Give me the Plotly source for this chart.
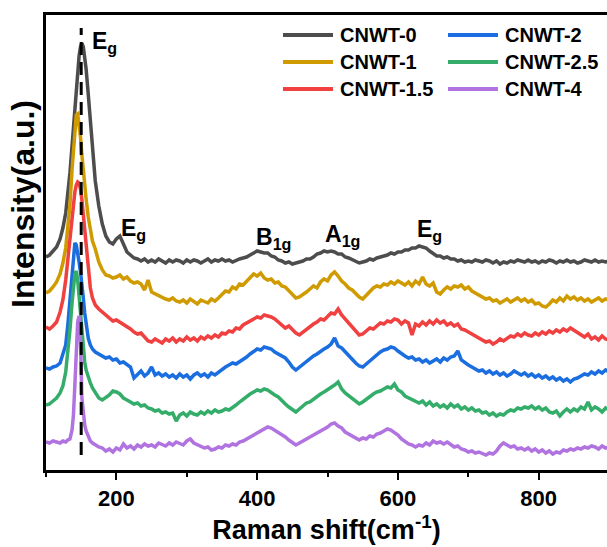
import plotly.graph_objects as go

# ---------------- data ----------------
X_FINE = [100, 105, 110, 115, 120, 124, 128, 131, 134, 137, 139, 141, 143, 145, 147,
          149, 151, 153, 155, 157, 160, 163, 166, 170, 175]
X_COARSE = [180, 185, 190, 195, 200, 205, 210, 215, 220, 225,
            230, 235, 240, 245, 250, 255, 260, 265, 270, 275,
            280, 285, 290, 295, 300, 305, 310, 315, 320, 325,
            330, 335, 340, 345, 350, 355, 360, 365, 370, 375,
            380, 385, 390, 395, 400, 405, 410, 415, 420, 425,
            430, 435, 440, 445, 450, 455, 460, 465, 470, 475,
            480, 485, 490, 495, 500, 505, 510, 515, 520, 525,
            530, 535, 540, 545, 550, 555, 560, 565, 570, 575,
            580, 585, 590, 595, 600, 605, 610, 615, 620, 625,
            630, 635, 640, 645, 650, 655, 660, 665, 670, 675,
            680, 685, 690, 695, 700, 705, 710, 715, 720, 725,
            730, 735, 740, 745, 750, 755, 760, 765, 770, 775,
            780, 785, 790, 795, 800, 805, 810, 815, 820, 825,
            830, 835, 840, 845, 850, 855, 860, 865, 870, 875,
            880, 885, 890, 895, 900]
RAMAN_SHIFT = X_FINE + X_COARSE

SERIES_NAMES = ["CNWT-0", "CNWT-1", "CNWT-1.5", "CNWT-2", "CNWT-2.5", "CNWT-4"]

CNWT_0 = [213, 215, 219, 223, 231, 242, 257, 274, 297, 324, 344, 364, 384, 401, 414,
          423, 427, 423, 414, 401, 376, 349, 319, 289, 264,
          246, 234, 228, 226, 231, 234, 225, 218, 215, 212,
          211, 209, 211, 208, 210, 208, 211, 209, 207, 210,
          208, 210, 209, 207, 210, 208, 210, 209, 207, 209,
          211, 208, 210, 209, 211, 209, 210, 208, 210, 211,
          212, 213, 215, 217, 219, 218, 217, 217, 214, 213,
          210, 209, 207, 208, 206, 207, 208, 209, 211, 211,
          213, 216, 217, 219, 218, 219, 218, 216, 216, 213,
          212, 210, 209, 207, 208, 209, 211, 210, 212, 213,
          214, 215, 217, 216, 218, 218, 220, 220, 222, 222,
          224, 223, 222, 219, 217, 214, 214, 212, 213, 211,
          211, 209, 210, 208, 209, 208, 210, 209, 208, 210,
          209, 207, 209, 206, 208, 207, 209, 208, 210, 209,
          208, 210, 208, 209, 207, 209, 208, 210, 209, 207,
          209, 208, 210, 208, 209, 207, 208, 210, 209, 208,
          210, 208, 209, 208, 209]

CNWT_1 = [177, 179, 183, 188, 196, 207, 222, 240, 265, 300, 322, 342, 355, 356, 347,
          333, 315, 298, 284, 271, 253, 238, 229, 221, 208,
          200, 195, 194, 192, 193, 195, 191, 193, 189, 187,
          188, 186, 180, 190, 178, 176, 175, 173, 171, 170,
          172, 169, 168, 170, 167, 171, 168, 166, 170, 168,
          167, 171, 169, 172, 176, 179, 178, 183, 181, 186,
          185, 189, 193, 196, 194, 197, 192, 190, 191, 187,
          188, 184, 183, 179, 176, 172, 173, 175, 178, 181,
          184, 182, 188, 191, 189, 195, 198, 194, 189, 186,
          182, 180, 176, 173, 171, 175, 179, 182, 184, 183,
          186, 185, 188, 186, 189, 187, 185, 188, 184, 189,
          186, 193, 186, 184, 187, 178, 176, 180, 183, 181,
          184, 183, 185, 181, 183, 179, 177, 174, 173, 171,
          172, 169, 170, 167, 169, 171, 168, 170, 172, 169,
          171, 168, 170, 166, 167, 164, 163, 166, 170, 168,
          172, 169, 174, 171, 173, 170, 172, 169, 171, 168,
          170, 172, 169, 171, 170]

CNWT_1_5 = [143, 141, 144, 148, 158, 170, 190, 210, 234, 255, 268, 278, 285, 288, 287,
            281, 270, 256, 240, 223, 200, 182, 172, 165, 161,
            158, 154, 151, 149, 150, 148, 146, 143, 141, 138,
            136, 137, 133, 129, 128, 131, 129, 127, 131, 129,
            132, 128, 131, 129, 133, 130, 132, 129, 133, 131,
            134, 132, 135, 133, 137, 136, 139, 138, 142, 141,
            145, 147, 149, 151, 153, 152, 155, 154, 153, 151,
            148, 145, 142, 144, 140, 137, 135, 138, 141, 143,
            146, 148, 151, 150, 154, 157, 156, 161, 155, 151,
            147, 142, 138, 135, 136, 139, 142, 141, 144, 147,
            146, 149, 148, 151, 150, 146, 149, 147, 135, 146,
            144, 148, 145, 149, 146, 150, 147, 149, 145, 147,
            144, 146, 141, 140, 138, 136, 134, 132, 130, 128,
            129, 126, 128, 131, 129, 132, 134, 133, 136, 134,
            137, 135, 134, 137, 135, 138, 136, 139, 137, 140,
            138, 141, 139, 142, 140, 137, 135, 133, 136, 131,
            133, 130, 134, 131, 130]

CNWT_2 = [102, 101, 103, 104, 107, 116, 125, 145, 170, 197, 215, 227, 225, 218, 208,
          198, 187, 172, 157, 145, 132, 125, 121, 118, 116,
          114, 112, 113, 110, 111, 107, 108, 105, 103, 92,
          96, 99, 94, 97, 103, 95, 97, 94, 96, 93,
          95, 92, 96, 93, 95, 91, 95, 97, 94, 96,
          93, 97, 95, 98, 100, 103, 105, 107, 106, 108,
          111, 113, 116, 119, 121, 120, 123, 122, 121, 118,
          116, 114, 112, 108, 103, 100, 103, 106, 109, 112,
          114, 116, 119, 121, 123, 126, 132, 124, 122, 118,
          114, 111, 107, 104, 103, 106, 109, 113, 116, 118,
          120, 121, 123, 122, 119, 116, 114, 112, 113, 110,
          111, 108, 110, 107, 109, 111, 108, 112, 110, 113,
          114, 119, 110, 107, 105, 103, 101, 99, 100, 97,
          99, 96, 98, 95, 97, 94, 96, 99, 97, 95,
          97, 94, 96, 93, 95, 92, 94, 91, 93, 90,
          92, 89, 91, 88, 91, 92, 94, 96, 95, 98,
          96, 99, 97, 100, 98]

CNWT_2_5 = [65, 66, 69, 72, 77, 84, 98, 117, 140, 167, 183, 196, 199, 190, 174,
            157, 136, 120, 108, 100, 93, 87, 82, 77, 72,
            70, 72, 75, 79, 78, 76, 72, 70, 68, 66,
            67, 64, 65, 62, 61, 59, 60, 57, 58, 56,
            57, 49, 55, 57, 54, 58, 56, 55, 58, 56,
            59, 57, 60, 58, 59, 61, 60, 62, 65, 68,
            71, 74, 76, 78, 80, 79, 81, 80, 77, 75,
            73, 69, 66, 63, 60, 58, 61, 64, 67, 68,
            71, 73, 76, 78, 80, 83, 85, 88, 81, 77,
            74, 71, 69, 66, 68, 71, 74, 76, 78, 79,
            81, 83, 82, 86, 80, 78, 74, 72, 70, 68,
            67, 69, 65, 68, 64, 66, 63, 65, 62, 66,
            63, 65, 61, 63, 60, 62, 59, 60, 57, 58,
            55, 57, 54, 56, 55, 58, 60, 59, 62, 61,
            63, 62, 64, 61, 63, 60, 62, 58, 57, 59,
            54, 58, 61, 58, 61, 59, 63, 61, 68, 60,
            63, 61, 58, 62, 60]

CNWT_4 = [28, 27, 29, 28, 27, 29, 28, 30, 31, 40, 55, 85, 120, 148, 154,
          128, 72, 55, 45, 39, 33, 29, 27, 25, 23,
          22, 19, 21, 18, 22, 20, 26, 22, 24, 21,
          25, 23, 26, 24, 25, 23, 27, 25, 24, 27,
          25, 28, 26, 25, 29, 31, 27, 25, 24, 22,
          23, 20, 21, 23, 22, 25, 24, 26, 25, 28,
          29, 31, 33, 36, 38, 40, 41, 43, 42, 40,
          38, 35, 33, 30, 27, 25, 27, 29, 31, 33,
          34, 36, 39, 41, 43, 46, 47, 44, 42, 38,
          36, 33, 31, 30, 32, 31, 34, 33, 36, 37,
          39, 41, 40, 38, 35, 31, 28, 26, 25, 23,
          25, 24, 27, 25, 29, 27, 28, 26, 28, 25,
          23, 24, 21, 20, 18, 19, 17, 18, 16, 15,
          17, 16, 19, 24, 27, 25, 23, 24, 21, 22,
          20, 22, 19, 21, 18, 20, 17, 19, 16, 18,
          17, 20, 19, 21, 20, 22, 21, 23, 22, 24,
          23, 21, 24, 22, 23]

SERIES_VALUES = [CNWT_0, CNWT_1, CNWT_1_5, CNWT_2, CNWT_2_5, CNWT_4]

X_TICKS = [200, 400, 600, 800]
X_TICK_LABELS = ["200", "400", "600", "800"]
PEAK_LABELS = [("E<sub>g</sub>", 162, 428), ("E<sub>g</sub>", 204, 241),
               ("B<sub>1g</sub>", 396, 232), ("A<sub>1g</sub>", 493, 235),
               ("E<sub>g</sub>", 624, 240)]
EG_LINE_X = 150
X_TITLE = "Raman shift(cm<sup>-1</sup>)"
Y_TITLE = "Intensity(a.u.)"

# ---------------- styling ----------------
COLORS = ["#4d4d4d", "#d09b00", "#f04040", "#1a6ee0", "#35ad6a", "#b073e0"]
FONT = "Liberation Sans, Arial, sans-serif"
W, H = 607, 547
ML, MR, MT, MB = 46, 0, 15, 77
PW, PH = W - ML - MR, H - MT - MB


def px_to_paper(px, py):
    return (px - ML) / PW, (H - MB - py) / PH


fig = go.Figure()
for name, vals, col in zip(SERIES_NAMES, SERIES_VALUES, COLORS):
    fig.add_trace(go.Scatter(x=RAMAN_SHIFT, y=vals, mode="lines", name=name,
                             line=dict(color=col, width=3.5), showlegend=False))

# dashed reference line at the main Eg mode
fig.add_shape(type="line", xref="x", yref="y", x0=EG_LINE_X, x1=EG_LINE_X,
              y0=15, y1=442, line=dict(color="black", width=3, dash="13px,7px"),
              layer="above")

# peak labels
for txt, xv, yv in PEAK_LABELS:
    fig.add_annotation(x=xv, y=yv, xref="x", yref="y", text="<b>" + txt + "</b>",
                       showarrow=False, xanchor="left", yanchor="middle",
                       font=dict(family=FONT, size=23, color="black"))

# manual two-column legend (column-major order)
legend_pos = [(283, 35), (283, 62), (283, 89), (448, 35), (448, 62), (448, 89)]
for (lx, ly), name, col in zip(legend_pos, SERIES_NAMES, COLORS):
    x0, y0 = px_to_paper(lx, ly)
    x1, _ = px_to_paper(lx + 50, ly)
    fig.add_shape(type="line", xref="paper", yref="paper", x0=x0, x1=x1, y0=y0, y1=y0,
                  line=dict(color=col, width=4))
    tx, _ = px_to_paper(lx + 55, ly)
    fig.add_annotation(x=tx, y=y0, xref="paper", yref="paper", text="<b>" + name + "</b>",
                       showarrow=False, xanchor="left", yanchor="middle",
                       font=dict(family=FONT, size=20, color="black"))

# y-axis title (placed like the reference, above the axis centre)
ytx, yty = px_to_paper(23, 204)
fig.add_annotation(x=ytx, y=yty, xref="paper", yref="paper", text="<b>" + Y_TITLE + "</b>",
                   textangle=-90, showarrow=False, xanchor="center", yanchor="middle",
                   font=dict(family=FONT, size=32, color="black"))

fig.update_layout(
    width=W, height=H, margin=dict(l=ML, r=MR, t=MT, b=MB),
    paper_bgcolor="white", plot_bgcolor="white",
    font=dict(family=FONT, color="black"),
    xaxis=dict(range=[100, 897], showgrid=False, zeroline=False,
               showline=True, linecolor="black", linewidth=2.5, mirror=True,
               ticks="outside", ticklen=7, tickwidth=2, tickcolor="black",
               tickvals=X_TICKS, ticktext=["<b>" + t + "</b>" for t in X_TICK_LABELS],
               tickfont=dict(family=FONT, size=22, color="black"),
               minor=dict(dtick=100, tick0=0, ticks="outside", ticklen=4,
                          tickwidth=2, tickcolor="black", showgrid=False),
               title=dict(text="<b>" + X_TITLE + "</b>",
                          font=dict(family=FONT, size=27, color="black"), standoff=4),
               automargin=False),
    yaxis=dict(range=[0, 455], showgrid=False, zeroline=False,
               showline=True, linecolor="black", linewidth=2.5,
               ticks="", showticklabels=False, automargin=False),
)

fig.write_html("out.html")
